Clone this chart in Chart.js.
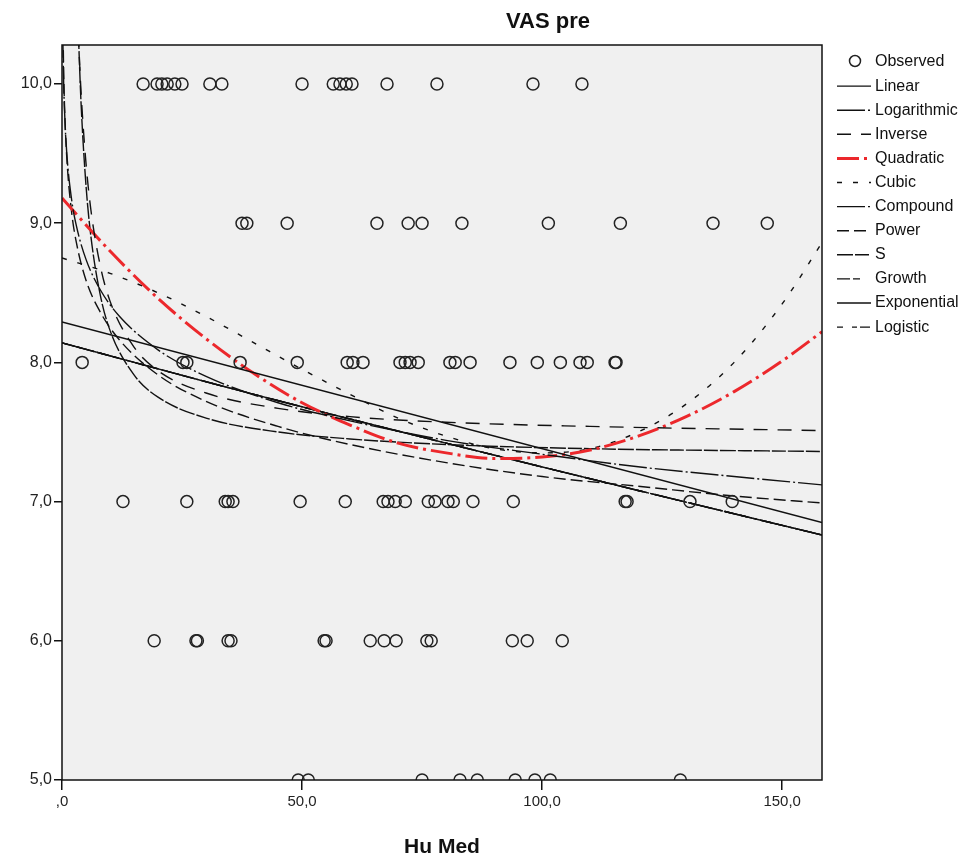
<!DOCTYPE html>
<html>
<head>
<meta charset="utf-8">
<script src="https://cdn.jsdelivr.net/npm/chart.js@4.4.1/dist/chart.umd.min.js"></script>
<style>
  body { margin: 0; background: #fff; }
  canvas { display: block; }
</style>
</head>
<body>
<canvas id="curveChart" width="974" height="857"></canvas>
<script>
// observed Hu Med values, grouped by their VAS pre score
const huAt10 = [16.9, 19.8, 20.8, 21.9, 23.5, 25.0, 30.8, 33.3, 50.0, 56.5, 57.9, 59.2, 60.4, 67.7, 78.1, 98.1, 108.3];
const huAt9 = [37.5, 38.5, 46.9, 65.6, 72.1, 75.0, 83.3, 101.3, 116.3, 135.6, 146.9];
const huAt8 = [4.2, 25.2, 26.0, 37.1, 49.0, 59.4, 60.6, 62.7, 70.4, 71.5, 72.5, 74.2, 80.8, 81.9, 85.0, 93.3, 99.0, 103.8, 107.9, 109.4, 115.2, 115.4];
const huAt7 = [12.7, 26.0, 34.0, 34.6, 35.6, 49.6, 59.0, 66.9, 67.9, 69.4, 71.5, 76.3, 77.7, 80.4, 81.5, 85.6, 94.0, 117.3, 117.7, 130.8, 139.6];
const huAt6 = [19.2, 27.9, 28.2, 34.6, 35.2, 54.6, 55.0, 64.2, 67.1, 69.6, 76.0, 76.9, 93.8, 96.9, 104.2];
const huAt5 = [49.2, 51.3, 75.0, 82.9, 86.5, 94.4, 98.5, 101.7, 128.8];

// fitted curves
const linX = [0, 158.3];
const linY = [8.29, 6.85];
const expX = [0, 40, 80, 120, 158.3];
const expY = [8.14, 7.77, 7.42, 7.08, 6.76];
const logX = [0.15, 0.3, 0.5, 1, 2, 3, 5, 8, 12, 20, 30, 45, 60, 80, 100, 120, 140, 158.3];
const logY = [10.39, 10.07, 9.83, 9.50, 9.17, 8.98, 8.74, 8.52, 8.33, 8.09, 7.90, 7.71, 7.58, 7.44, 7.34, 7.25, 7.18, 7.12];
const powX = [0.15, 0.3, 0.5, 1, 2, 3, 5, 8, 12, 20, 30, 45, 60, 80, 100, 120, 140, 158.3];
const powY = [10.61, 10.18, 9.87, 9.47, 9.08, 8.86, 8.59, 8.36, 8.16, 7.91, 7.72, 7.54, 7.41, 7.28, 7.18, 7.11, 7.04, 6.99];
const invX = [3.2, 3.5, 4, 5, 6, 8, 10, 15, 20, 30, 45, 60, 80, 110, 158.3];
const invY = [10.54, 10.28, 9.92, 9.43, 9.10, 8.69, 8.44, 8.11, 7.94, 7.78, 7.67, 7.61, 7.57, 7.54, 7.51];
const sX = [3.2, 3.5, 4, 5, 6, 8, 10, 15, 20, 30, 45, 60, 80, 110, 158.3];
const sY = [10.61, 10.28, 9.84, 9.27, 8.91, 8.48, 8.23, 7.91, 7.75, 7.60, 7.50, 7.45, 7.41, 7.38, 7.36];
const quadX = [0, 10, 20, 30, 40, 50, 60, 70, 80, 90, 100, 110, 120, 130, 140, 150, 158.3];
const quadY = [9.18, 8.80, 8.46, 8.17, 7.92, 7.71, 7.55, 7.42, 7.35, 7.31, 7.32, 7.37, 7.47, 7.61, 7.79, 8.01, 8.22];
const cubX = [0, 10, 20, 30, 40, 50, 60, 70, 80, 90, 100, 110, 120, 130, 140, 150, 158.3];
const cubY = [8.75, 8.64, 8.50, 8.33, 8.14, 7.95, 7.77, 7.60, 7.47, 7.38, 7.35, 7.38, 7.50, 7.70, 8.00, 8.42, 8.86];

// axis ticks
const xTickVals = [0, 50, 100, 150];
const xTickText = [',0', '50,0', '100,0', '150,0'];
const yTickVals = [5, 6, 7, 8, 9, 10];
const yTickText = ['5,0', '6,0', '7,0', '8,0', '9,0', '10,0'];

const FONT = '"Liberation Sans", Arial, sans-serif';

function pts(xs, ys) {
    return xs.map((x, i) => ({ x: x, y: ys[i] }));
}

let observed = [];
[[10, huAt10], [9, huAt9], [8, huAt8], [7, huAt7], [6, huAt6], [5, huAt5]].forEach(([v, list]) => {
    list.forEach(h => observed.push({ x: h, y: v }));
});

function curve(label, xs, ys, dash, color, width) {
    return {
        label: label,
        data: pts(xs, ys),
        showLine: true,
        borderColor: color || '#111',
        borderWidth: width || 1.4,
        borderDash: dash,
        pointRadius: 0,
        tension: 0.4,
        cubicInterpolationMode: 'monotone',
        fill: false
    };
}

const plotFrame = {
    id: 'plotFrame',
    beforeDraw(chart) {
        const a = chart.chartArea, ctx = chart.ctx;
        ctx.save();
        ctx.fillStyle = '#f0f0f0';
        ctx.fillRect(a.left, a.top, a.right - a.left, a.bottom - a.top);
        ctx.restore();
    },
    afterDraw(chart) {
        const a = chart.chartArea, ctx = chart.ctx;
        ctx.save();
        ctx.strokeStyle = '#111';
        ctx.lineWidth = 1.5;
        ctx.strokeRect(a.left, a.top, a.right - a.left, a.bottom - a.top);
        // title
        ctx.fillStyle = '#111';
        ctx.font = 'bold 22px ' + FONT;
        ctx.textAlign = 'center';
        ctx.textBaseline = 'middle';
        ctx.fillText('VAS pre', 548, 22);
        ctx.restore();
    }
};

const sideLegend = {
    id: 'sideLegend',
    afterDraw(chart) {
        const ctx = chart.ctx;
        ctx.save();
        ctx.font = '16px ' + FONT;
        ctx.textBaseline = 'middle';
        ctx.textAlign = 'left';
        chart.data.datasets.forEach((ds, i) => {
            const y = 62 + i * 24.1;
            if (ds.showLine === false) {
                ctx.strokeStyle = '#222';
                ctx.lineWidth = 1.5;
                ctx.beginPath();
                ctx.arc(855, y - 1, 5.5, 0, Math.PI * 2);
                ctx.stroke();
            } else {
                ctx.strokeStyle = ds.borderColor;
                ctx.lineWidth = ds.borderWidth;
                ctx.setLineDash(ds.borderDash || []);
                ctx.beginPath();
                ctx.moveTo(837, y);
                ctx.lineTo(871, y);
                ctx.stroke();
                ctx.setLineDash([]);
            }
            ctx.fillStyle = '#111';
            ctx.fillText(ds.label, 875, y);
        });
        ctx.restore();
    }
};

new Chart(document.getElementById('curveChart').getContext('2d'), {
    type: 'scatter',
    data: {
        datasets: [
            {
                label: 'Observed',
                data: observed,
                showLine: false,
                pointStyle: 'circle',
                pointRadius: 6,
                pointBorderWidth: 1.5,
                pointBorderColor: '#222',
                pointBackgroundColor: 'rgba(0,0,0,0)',
                clip: 0
            },
            curve('Linear', linX, linY, []),
            curve('Logarithmic', logX, logY, [28, 3, 2, 3]),
            curve('Inverse', invX, invY, [14, 10]),
            curve('Quadratic', quadX, quadY, [22, 5, 3, 5], 'rgb(236,40,44)', 3),
            curve('Cubic', cubX, cubY, [5, 11]),
            curve('Compound', expX, expY, [28, 3, 2, 3]),
            curve('Power', powX, powY, [12, 5]),
            curve('S', sX, sY, [16, 2, 14, 2]),
            curve('Growth', expX, expY, [13, 3, 7, 13]),
            curve('Exponential', expX, expY, [36, 2]),
            curve('Logistic', expX, expY, [6, 9, 5, 3, 10])
        ]
    },
    options: {
        responsive: false,
        animation: false,
        layout: { padding: { left: 0, top: 45, right: 152, bottom: 0 } },
        plugins: {
            legend: { display: false },
            title: { display: false },
            tooltip: { enabled: false }
        },
        scales: {
            x: {
                type: 'linear',
                min: 0,
                max: 158.3,
                afterBuildTicks: s => { s.ticks = xTickVals.map(v => ({ value: v })); },
                afterFit: s => { s.height = 77; },
                grid: { drawOnChartArea: false, tickLength: 10, color: '#111', lineWidth: 1.5 },
                border: { display: false },
                ticks: {
                    color: '#222',
                    padding: 3,
                    maxRotation: 0,
                    font: { family: FONT, size: 15 },
                    callback: (v, i) => xTickText[i]
                },
                title: {
                    display: true,
                    text: 'Hu Med',
                    color: '#111',
                    font: { family: FONT, size: 21, weight: 'bold' },
                    padding: { top: 0, bottom: -3 }
                }
            },
            y: {
                type: 'linear',
                min: 5,
                max: 10.28,
                afterBuildTicks: s => { s.ticks = yTickVals.map(v => ({ value: v })); },
                afterFit: s => { s.width = 62; },
                grid: { drawOnChartArea: false, tickLength: 8, color: '#111', lineWidth: 1.5 },
                border: { display: false },
                ticks: {
                    color: '#222',
                    padding: 2,
                    font: { family: FONT, size: 16 },
                    callback: (v, i) => yTickText[i]
                }
            }
        }
    },
    plugins: [plotFrame, sideLegend]
});
</script>
</body>
</html>
